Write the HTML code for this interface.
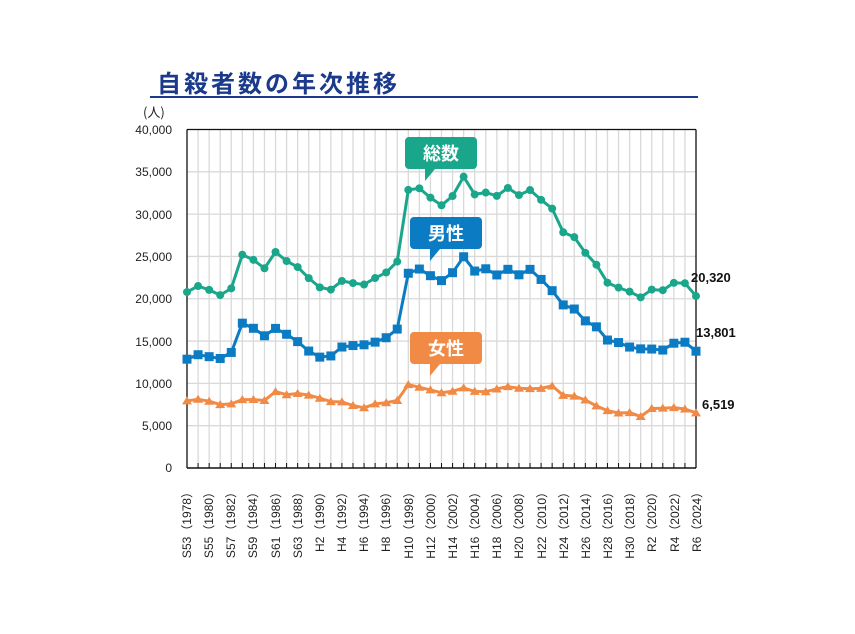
<!DOCTYPE html>
<html><head><meta charset="utf-8"><style>
body{margin:0;background:#fff;}
svg{display:block;font-family:"Liberation Sans","Noto Sans CJK JP",sans-serif;}
</style></head><body>
<svg id="s" width="855" height="634" viewBox="0 0 855 634" xmlns="http://www.w3.org/2000/svg">
<text x="157" y="92" font-size="24" font-weight="bold" fill="#1c3a8c" letter-spacing="3" font-family="'Noto Sans CJK JP',sans-serif">自殺者数の年次推移</text>
<rect x="150" y="96" width="548" height="2" fill="#1c3a8c"/>
<text x="143" y="117" font-size="13" fill="#222" font-family="'Noto Sans CJK JP',sans-serif">(人)</text>
<g id="grid"></g>
<g font-size="12" fill="#222" text-anchor="end">
<text x="172" y="134">40,000</text><text x="172" y="176">35,000</text><text x="172" y="219">30,000</text><text x="172" y="261">25,000</text><text x="172" y="303">20,000</text><text x="172" y="346">15,000</text><text x="172" y="388">10,000</text><text x="172" y="430">5,000</text><text x="172" y="472">0</text>
</g>
<g font-size="12" fill="#222" text-anchor="end" id="xl">
<text transform="translate(191,486) rotate(-90)">S53（1978）</text>
<text transform="translate(213,486) rotate(-90)">S55（1980）</text>
<text transform="translate(235,486) rotate(-90)">S57（1982）</text>
<text transform="translate(257,486) rotate(-90)">S59（1984）</text>
<text transform="translate(280,486) rotate(-90)">S61（1986）</text>
<text transform="translate(302,486) rotate(-90)">S63（1988）</text>
<text transform="translate(324,486) rotate(-90)">H2（1990）</text>
<text transform="translate(346,486) rotate(-90)">H4（1992）</text>
<text transform="translate(368,486) rotate(-90)">H6（1994）</text>
<text transform="translate(390,486) rotate(-90)">H8（1996）</text>
<text transform="translate(413,486) rotate(-90)">H10（1998）</text>
<text transform="translate(435,486) rotate(-90)">H12（2000）</text>
<text transform="translate(457,486) rotate(-90)">H14（2002）</text>
<text transform="translate(479,486) rotate(-90)">H16（2004）</text>
<text transform="translate(501,486) rotate(-90)">H18（2006）</text>
<text transform="translate(523,486) rotate(-90)">H20（2008）</text>
<text transform="translate(546,486) rotate(-90)">H22（2010）</text>
<text transform="translate(568,486) rotate(-90)">H24（2012）</text>
<text transform="translate(590,486) rotate(-90)">H26（2014）</text>
<text transform="translate(612,486) rotate(-90)">H28（2016）</text>
<text transform="translate(634,486) rotate(-90)">H30（2018）</text>
<text transform="translate(656,486) rotate(-90)">R2（2020）</text>
<text transform="translate(679,486) rotate(-90)">R4（2022）</text>
<text transform="translate(701,486) rotate(-90)">R6（2024）</text>
</g>
<g id="series"></g>
<g font-family="'Noto Sans CJK JP',sans-serif" font-weight="bold" font-size="18" fill="#fff" text-anchor="middle">
<path d="M409 137 h64 a4 4 0 0 1 4 4 v24 a4 4 0 0 1 -4 4 h-38 l-10 12 l0 -12 h-16 a4 4 0 0 1 -4 -4 v-24 a4 4 0 0 1 4 -4z" fill="#1aa68a"/>
<text x="441" y="160">総数</text>
<path d="M414 217 h64 a4 4 0 0 1 4 4 v24 a4 4 0 0 1 -4 4 h-38 l-10 12 l0 -12 h-16 a4 4 0 0 1 -4 -4 v-24 a4 4 0 0 1 4 -4z" fill="#0b7cc4"/>
<text x="446" y="240">男性</text>
<path d="M414 332 h64 a4 4 0 0 1 4 4 v24 a4 4 0 0 1 -4 4 h-38 l-10 12 l0 -12 h-16 a4 4 0 0 1 -4 -4 v-24 a4 4 0 0 1 4 -4z" fill="#f08a45"/>
<text x="446" y="355">女性</text>
</g>
<g font-size="13" font-weight="bold" fill="#111">
<text x="691" y="282">20,320</text>
<text x="696" y="337">13,801</text>
<text x="702" y="409">6,519</text>
</g>
</svg>
<script>
var NS="http://www.w3.org/2000/svg";
function el(t,a,p){var e=document.createElementNS(NS,t);for(var k in a)e.setAttribute(k,a[k]);p.appendChild(e);return e;}
var g=document.getElementById("grid"),s=document.getElementById("series");
var X0=187,X1=696,Y0=468,Y1=129.5;
function X(i){return X0+(X1-X0)*i/46;}
function Y(v){return Y0-(Y0-Y1)*v/40000;}
for(var i=1;i<46;i++)el("line",{x1:X(i),x2:X(i),y1:Y1,y2:Y0,stroke:"#d9d9d9","stroke-width":1.3},g);
for(var v=5000;v<=40000;v+=5000)el("line",{x1:X0,x2:X1,y1:Y(v),y2:Y(v),stroke:"#d9d9d9","stroke-width":1.3},g);
el("line",{x1:X0,x2:X1,y1:Y1,y2:Y1,stroke:"#111","stroke-width":1.3},g);
el("line",{x1:X0,x2:X0,y1:Y1,y2:Y0,stroke:"#111","stroke-width":1.3},g);
el("line",{x1:X1,x2:X1,y1:Y1,y2:Y0,stroke:"#111","stroke-width":1.3},g);
el("line",{x1:X0,x2:X1,y1:Y0,y2:Y0,stroke:"#111","stroke-width":1.5},g);
for(var i=0;i<=46;i++)el("line",{x1:X(i),x2:X(i),y1:Y0-5,y2:Y0,stroke:"#111","stroke-width":1},g);
var T=[20788,21503,21048,20434,21228,25202,24596,23599,25524,24460,23742,22436,21346,21084,22104,21851,21679,22445,23104,24391,32863,33048,31957,31042,32143,34427,32325,32552,32155,33093,32249,32845,31690,30651,27858,27283,25427,24025,21897,21321,20840,20169,21081,21007,21881,21837,20320];
var M=[12859,13386,13155,12942,13654,17116,16508,15624,16497,15802,14934,13818,13102,13242,14296,14468,14560,14874,15393,16416,23013,23512,22727,22144,23080,24963,23272,23540,22813,23478,22831,23472,22283,20955,19273,18787,17386,16681,15121,14826,14290,14078,14055,13939,14746,14862,13801];
var F=T.map(function(t,i){return t-M[i];});
function line(d,c,mk){var p="";d.forEach(function(v,i){p+=(i?"L":"M")+X(i).toFixed(1)+" "+Y(v).toFixed(1);});
el("path",{d:p,fill:"none",stroke:c,"stroke-width":3,"stroke-linejoin":"round"},s);
d.forEach(function(v,i){var x=X(i),y=Y(v);
if(mk=="c")el("circle",{cx:x,cy:y,r:4,fill:c},s);
else if(mk=="s")el("rect",{x:x-4.5,y:y-4.5,width:9,height:9,fill:c},s);
else el("path",{d:"M"+x+" "+(y-4.5)+"L"+(x+5)+" "+(y+3.5)+"L"+(x-5)+" "+(y+3.5)+"Z",fill:c},s);});}
line(T,"#1aa68a","c");line(M,"#0b7cc4","s");line(F,"#f08a45","t");
</script>
</body></html>
